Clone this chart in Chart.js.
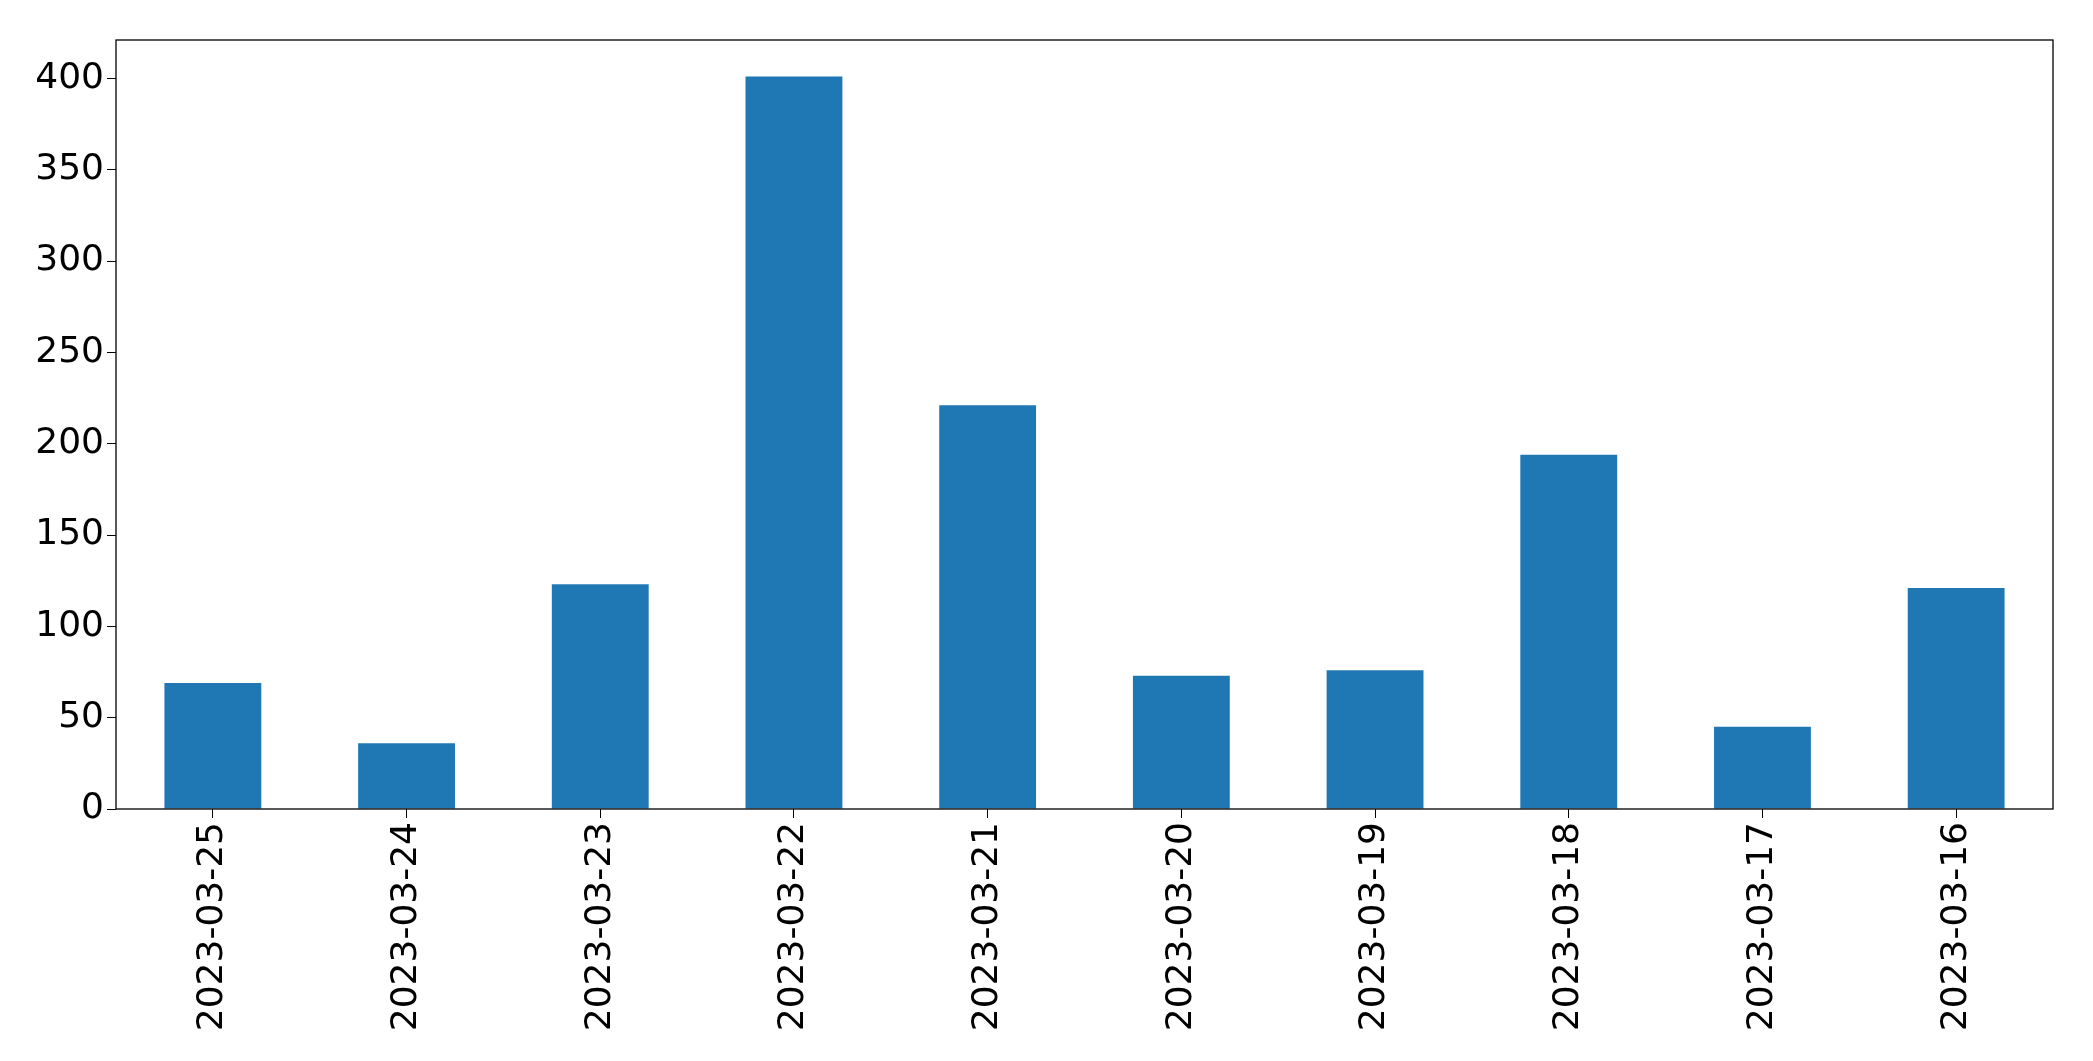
<!DOCTYPE html>
<html>
<head>
<meta charset="utf-8">
<script src="https://cdn.jsdelivr.net/npm/chart.js@4/dist/chart.umd.min.js"></script>
<style>
  html, body { margin: 0; padding: 0; background: #fff; }
  #wrap { width: 2093px; height: 1061px; }
</style>
</head>
<body>
<div id="wrap"><canvas id="barChart" width="2093" height="1061"></canvas></div>
<script>
// dates, newest first as in the source plot
const days = ['2023-03-25', '2023-03-24', '2023-03-23', '2023-03-22', '2023-03-21',
              '2023-03-20', '2023-03-19', '2023-03-18', '2023-03-17', '2023-03-16'];
const counts = [69, 36, 123, 401, 221, 73, 76, 194, 45, 121];
const yTicks = [0, 50, 100, 150, 200, 250, 300, 350, 400];

const tickFont = { family: 'DejaVu Sans', size: 36 };

// draws the black frame round the plot area
const frame = {
    id: 'frame',
    afterDraw(chart) {
        const a = chart.chartArea;
        const c = chart.ctx;
        c.save();
        c.strokeStyle = '#000';
        c.lineWidth = 1.3;
        c.strokeRect(a.left, a.top, a.right - a.left, a.bottom - a.top);
        c.restore();
    }
};

const ctx = document.getElementById('barChart').getContext('2d');
new Chart(ctx, {
    type: 'bar',
    data: {
        labels: days,
        datasets: [{
            data: counts,
            backgroundColor: '#1f77b4',
            categoryPercentage: 1.0,
            barPercentage: 0.5
        }]
    },
    options: {
        responsive: false,
        animation: false,
        layout: { padding: { top: 40, right: 40, left: 0, bottom: 0 } },
        plugins: { legend: { display: false }, tooltip: { enabled: false } },
        scales: {
            x: {
                offset: true,
                grid: { drawOnChartArea: false, tickLength: 9, tickColor: '#000', offset: false },
                border: { display: false },
                ticks: { color: '#000', font: tickFont, minRotation: 90, maxRotation: 90, padding: 4 },
                afterFit(s) { s.height = 252; }
            },
            y: {
                min: 0,
                max: 421.05,
                afterBuildTicks(s) { s.ticks = yTicks.map(v => ({ value: v })); },
                grid: { drawOnChartArea: false, tickLength: 9, tickColor: '#000' },
                border: { display: false },
                ticks: { color: '#000', font: tickFont, padding: 3 },
                afterFit(s) { s.width = 116; }
            }
        }
    },
    plugins: [frame]
});
</script>
</body>
</html>
